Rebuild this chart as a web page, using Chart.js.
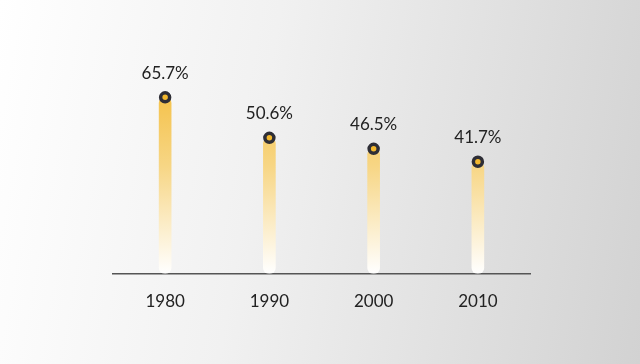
<!DOCTYPE html>
<html>
<head>
<meta charset="utf-8">
<script src="https://cdn.jsdelivr.net/npm/chart.js@4.4.1/dist/chart.umd.min.js"></script>
<style>
  html, body { margin: 0; padding: 0; }
  body {
    width: 640px; height: 364px; overflow: hidden;
    background: linear-gradient(100deg, #ffffff 0%, #f1f1f1 40%, #d2d2d2 100%);
  }
  #wrap { position: relative; width: 640px; height: 364px; }
</style>
</head>
<body>
<div id="wrap"><canvas id="chart"></canvas></div>
<script>
// data
var years = ["1980", "1990", "2000", "2010"];
var shares = [65.7, 50.6, 46.5, 41.7];

var gold = "#f3b82e";
var dark = "#2e2e36";

// bar fill fades from gold at the top to white at the baseline
function barGradient(context) {
    var chart = context.chart;
    var area = chart.chartArea;
    if (!area) return gold;
    var el = context.element;
    var top = el && el.y ? el.y : area.top;
    var g = chart.ctx.createLinearGradient(0, top, 0, area.bottom);
    g.addColorStop(0, gold);
    g.addColorStop(0.5, "#f7d685");
    g.addColorStop(1, "#ffffff");
    return g;
}

// percent labels above the dots
var valueLabels = {
    id: "valueLabels",
    afterDatasetsDraw: function (chart) {
        var ctx = chart.ctx;
        var meta = chart.getDatasetMeta(1);
        ctx.save();
        ctx.font = "17px Lato";
        ctx.fillStyle = "#222";
        ctx.textAlign = "center";
        ctx.textBaseline = "middle";
        meta.data.forEach(function (pt, i) {
            ctx.fillText(shares[i].toFixed(1) + "%", pt.x, pt.y - 24);
        });
        ctx.restore();
    }
};

new Chart(document.getElementById("chart"), {
    data: {
        labels: years,
        datasets: [
            {
                type: "bar",
                data: shares,
                backgroundColor: barGradient,
                barThickness: 12,
                borderRadius: 6,
                borderSkipped: false,
                order: 2
            },
            {
                type: "line",
                data: shares,
                showLine: false,
                pointRadius: 4.5,
                pointBorderWidth: 3.5,
                pointBackgroundColor: gold,
                pointBorderColor: dark,
                order: 1
            }
        ]
    },
    options: {
        responsive: true,
        maintainAspectRatio: false,
        animation: false,
        layout: {
            padding: { left: 113, right: 110, top: 59, bottom: 34 }
        },
        plugins: {
            legend: { display: false },
            tooltip: { enabled: false }
        },
        scales: {
            x: {
                grid: { display: false, drawTicks: false },
                border: { display: true, color: "#555", width: 1.5 },
                ticks: {
                    color: "#222",
                    font: { family: "Lato", size: 17 },
                    padding: 18
                }
            },
            y: {
                display: false,
                min: 0,
                max: 80
            }
        }
    },
    plugins: [valueLabels]
});
</script>
</body>
</html>
